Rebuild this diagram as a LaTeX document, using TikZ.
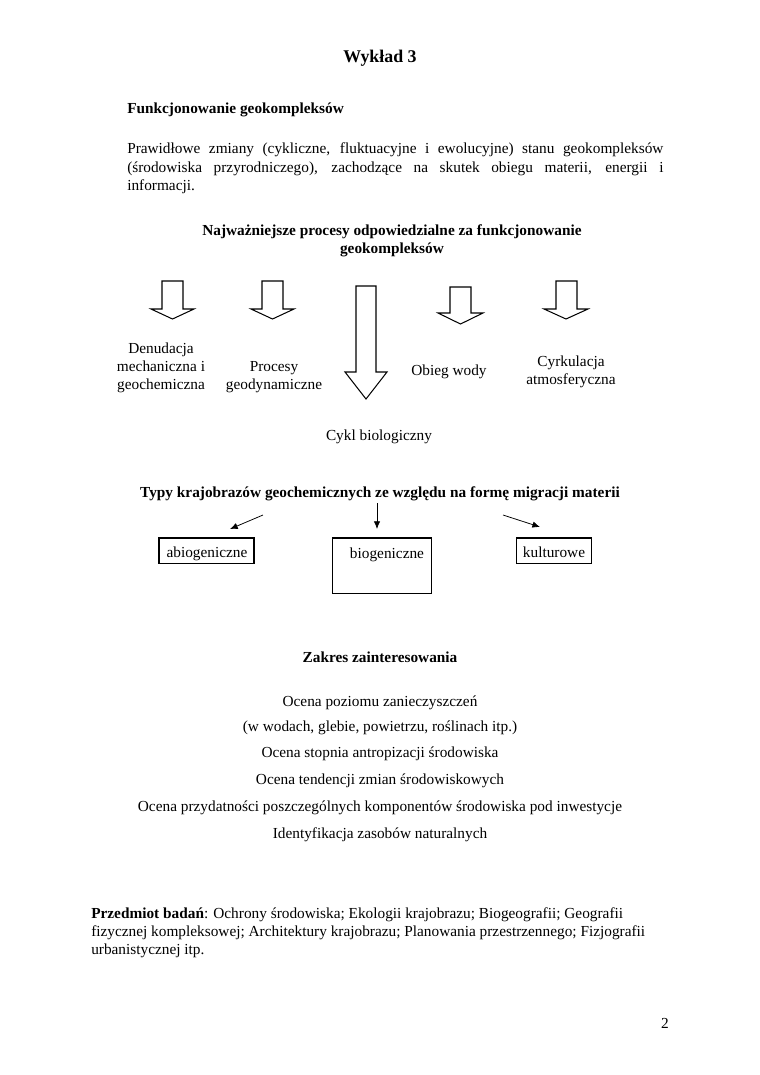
\documentclass[tikz,border=0pt]{standalone}
\usepackage{fontspec}
\setmainfont{Liberation Serif}
\usetikzlibrary{arrows.meta}
\begin{document}
\begin{tikzpicture}[x=0.7833pt,y=-0.7833pt,
  t/.style={inner sep=0pt, font=\fontsize{12}{14}\selectfont, anchor=mid, yshift=-2.4pt},
  tb/.style={t, font=\fontsize{12}{14}\selectfont\bfseries},
  tl/.style={t, anchor=mid west},
  tbl/.style={tb, anchor=mid west},
  blk/.style={draw, line width=0.8pt, fill=white, line join=miter},
  arr/.style={-{Latex[length=6pt,width=5pt]}, line width=0.6pt},
  boxn/.style={draw, line width=0.8pt, inner sep=0pt}]
\useasboundingbox[fill=white] (0,0) rectangle (760,1075);

% title
\node[tb, font=\fontsize{14}{16}\selectfont\bfseries] (title) at (380,57) {Wykład 3};
\node[tbl] (h1) at (127,108) {Funkcjonowanie geokompleksów};
\node[tl] (p1) at (127,148) {\makebox[420pt][s]{Prawidłowe zmiany (cykliczne, fluktuacyjne i ewolucyjne) stanu geokompleksów}};
\node[tl] (p2) at (127,166) {\makebox[420pt][s]{(środowiska przyrodniczego), zachodzące na skutek obiegu materii, energii i}};
\node[tl] (p3) at (127,184) {informacji.};

\node[tb] (h2a) at (392,229) {Najważniejsze procesy odpowiedzialne za funkcjonowanie};
\node[tb] (h2b) at (392,247) {geokompleksów};

% block arrows
\draw[blk] (162,281) -- (183,281) -- (183,309) -- (194,309) -- (172.5,319) -- (151,309) -- (162,309) -- cycle;
\draw[blk] (262,281) -- (283,281) -- (283,309) -- (294,309) -- (272.5,319) -- (251,309) -- (262,309) -- cycle;
\draw[blk] (356,286) -- (376,286) -- (376,372) -- (387,372) -- (366,399) -- (345,372) -- (356,372) -- cycle;
\draw[blk] (450,287) -- (471,287) -- (471,313) -- (483,313) -- (460.5,324) -- (438,313) -- (450,313) -- cycle;
\draw[blk] (556,281) -- (577,281) -- (577,309) -- (588,309) -- (566,319) -- (544,309) -- (556,309) -- cycle;

% labels of processes
\node[t] (d1) at (161,347) {Denudacja};
\node[t] (d2) at (161,365) {mechaniczna i};
\node[t] (d3) at (161,383) {geochemiczna};
\node[t] (g1) at (274,365) {Procesy};
\node[t] (g2) at (274,383) {geodynamiczne};
\node[t] (w1) at (449,369) {Obieg wody};
\node[t] (c1) at (571,360) {Cyrkulacja};
\node[t] (c2) at (571,378) {atmosferyczna};
\node[t] (b1) at (379,434) {Cykl biologiczny};

% types
\node[tb] (h3) at (380,491) {Typy krajobrazów geochemicznych ze względu na formę migracji materii};
\coordinate (aL0) at (263,515);
\coordinate (aL1) at (230,529);
\coordinate (aM0) at (377,503);
\coordinate (aM1) at (377,529);
\coordinate (aR0) at (503,515);
\coordinate (aR1) at (540,527);
\draw[arr] (aL0) -- (aL1);
\draw[arr] (aM0) -- (aM1);
\draw[arr] (aR0) -- (aR1);

\node[boxn, minimum width=74.4pt, minimum height=19.6pt] (abio) at (206.5,550.5) {};
\node[t] (abiotxt) at (207,551) {abiogeniczne};
\node[boxn, minimum width=76.8pt, minimum height=43.1pt] (bio) at (382,565.5) {};
\node[t] (biotxt) at (387,552) {biogeniczne};
\node[boxn, minimum width=59.5pt, minimum height=19.6pt] (kult) at (554,550.5) {};
\node[t] (kulttxt) at (554,551) {kulturowe};

% scope of interest
\node[tb] (h4) at (380,656) {Zakres zainteresowania};
\node[t] (z1) at (380,700) {Ocena poziomu zanieczyszczeń};
\node[t] (z2) at (380,725) {(w wodach, glebie, powietrzu, roślinach itp.)};
\node[t] (z3) at (380,751) {Ocena stopnia antropizacji środowiska};
\node[t] (z4) at (380,778) {Ocena tendencji zmian środowiskowych};
\node[t] (z5) at (380,805) {Ocena przydatności poszczególnych komponentów środowiska pod inwestycje};
\node[t] (z6) at (380,832) {Identyfikacja zasobów naturalnych};

% subject
\node[tl] (s1) at (91,912) {\textbf{Przedmiot badań}: Ochrony środowiska; Ekologii krajobrazu; Biogeografii; Geografii};
\node[tl] (s2) at (91,930) {fizycznej kompleksowej; Architektury krajobrazu; Planowania przestrzennego; Fizjografii};
\node[tl] (s3) at (91,948) {urbanistycznej itp.};

\node[t] (pg) at (665,1022) {2};
\end{tikzpicture}
\end{document}
